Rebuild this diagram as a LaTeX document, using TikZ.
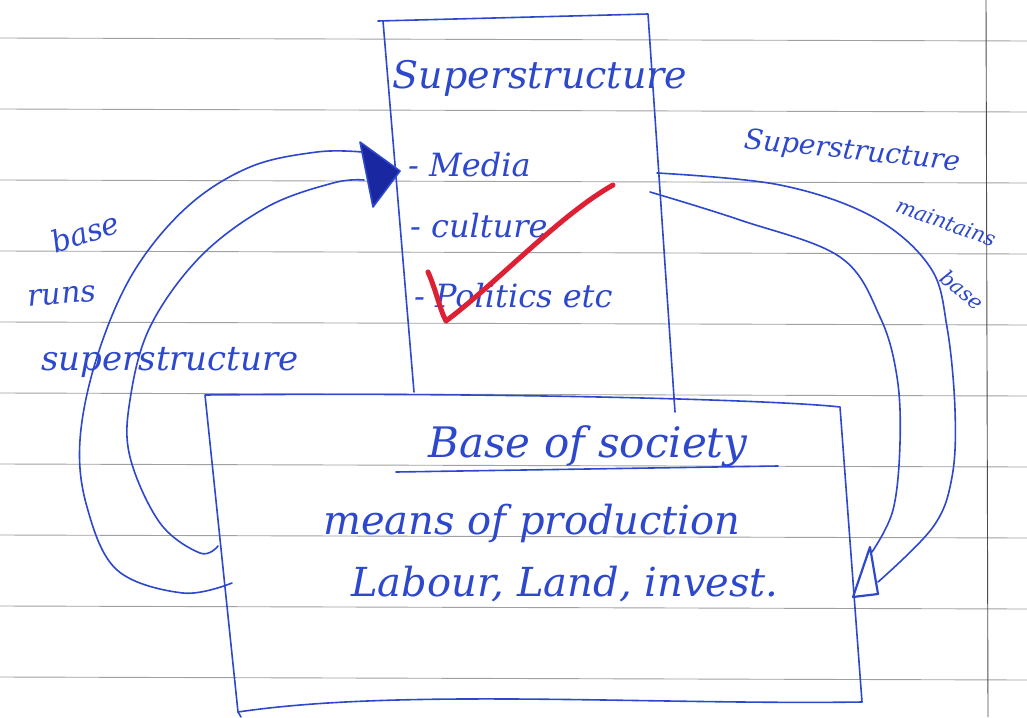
\documentclass[tikz,border=0pt]{standalone}
\usepackage{fontspec}
\setmainfont{DejaVu Serif}
\definecolor{pen}{RGB}{45,72,205}
\definecolor{penDark}{RGB}{25,40,160}
\definecolor{redpen}{RGB}{222,32,52}
\definecolor{ruled}{RGB}{160,160,160}
\begin{document}
\begin{tikzpicture}[x=1pt,y=-1pt,
  ink/.style={draw=pen, line width=1.6pt, line join=round, line cap=round},
  hw/.style={text=pen, font=\itshape\fontsize{#1}{#1}\selectfont, inner sep=0pt},
  ruleline/.style={draw=ruled, line width=0.9pt},
  checkmark/.style={draw=redpen, line width=5pt, line cap=round, line join=round}]
\useasboundingbox (0,0) rectangle (1027,717);
\fill[white] (0,0) rectangle (1027,717);
% ruled paper
\foreach \y in {38,109,180,251,322,393,464,535,606,677}
  \draw[ruleline] (0,\y) -- (1027,\y+3);
\draw[draw=black!70, line width=0.9pt] (986,0) -- (988,717);
% superstructure box
\coordinate (s1) at (378,21);
\coordinate (s2) at (648,14);
\coordinate (s3) at (675,412);
\coordinate (s4) at (414,392);
\draw[ink] (s1) -- (s2) -- (s3);
\draw[ink] (383,21) -- (s4);
% base box
\coordinate (b1) at (205,395);
\coordinate (b2) at (840,407);
\coordinate (b3) at (862,702);
\coordinate (b4) at (238,712);
\draw[ink] (b1) .. controls (500,392) and (780,400) .. (b2) -- (b3)
  .. controls (650,705) and (400,688) .. (b4) -- (b1);
\draw[ink] (b4) -- (241,717);
% texts in superstructure box
\node[hw=38] (sup) at (540,78) {Superstructure};
\node[hw=32, anchor=west] (media) at (408,165) {- Media};
\node[hw=32, anchor=west] (culture) at (410,226) {- culture};
\node[hw=32, anchor=west] (politics) at (414,296) {- Politics etc};
% texts in base box
\node[hw=42] (base) at (588,446) {Base of society};
\draw[ink] (396,472) -- (778,466);
\node[hw=40] (means) at (532,523) {means of production};
\node[hw=40] (labour) at (565,584) {Labour, Land, invest.};
% left label
\node[hw=30, rotate=18] (lb1) at (85,232) {base};
\node[hw=30, rotate=5] (lb2) at (62,296) {runs};
\node[hw=34] (lb3) at (170,362) {superstructure};
% right label
\node[hw=28, rotate=-6] (rl1) at (852,152) {Superstructure};
\node[hw=21, rotate=-20] (rl2) at (946,222) {maintains};
\node[hw=21, rotate=-40] (rl3) at (962,290) {base};
% left arrow (base runs superstructure)
\coordinate (Lo) at (232,583);
\coordinate (Li) at (218,546);
\coordinate (Lt) at (400,171);
\draw[ink] plot[smooth, tension=0.6] coordinates {(Lo) (183,593) (117,570) (87,507) (80,440) (97,357) (133,273) (187,207) (250,167) (317,152) (362,152)};
\draw[ink] plot[smooth, tension=0.6] coordinates {(Li) (200,553) (160,523) (130,457) (130,400) (150,327) (200,257) (267,207) (333,183) (364,180)};
\filldraw[ink, fill=penDark] (360,142) -- (Lt) -- (373,207) -- cycle;
% right arrow (superstructure maintains base)
\coordinate (Ro) at (657,173);
\coordinate (Ri) at (650,192);
\coordinate (Rt) at (853,597);
\draw[ink] plot[smooth, tension=0.6] coordinates {(Ro) (780,185) (873,217) (930,267) (947,327) (955,410) (952,477) (933,527) (878,582)};
\draw[ink] plot[smooth, tension=0.6] coordinates {(Ri) (740,220) (840,257) (880,317) (897,377) (900,443) (893,510) (872,552)};
\draw[ink, line width=2.2pt] (870,547) -- (Rt) -- (878,594) -- cycle;
% red check mark
\draw[checkmark] (428,272) .. controls (436,290) and (440,310) .. (446,321)
  .. controls (500,280) and (560,215) .. (613,185);
\end{tikzpicture}
\end{document}
